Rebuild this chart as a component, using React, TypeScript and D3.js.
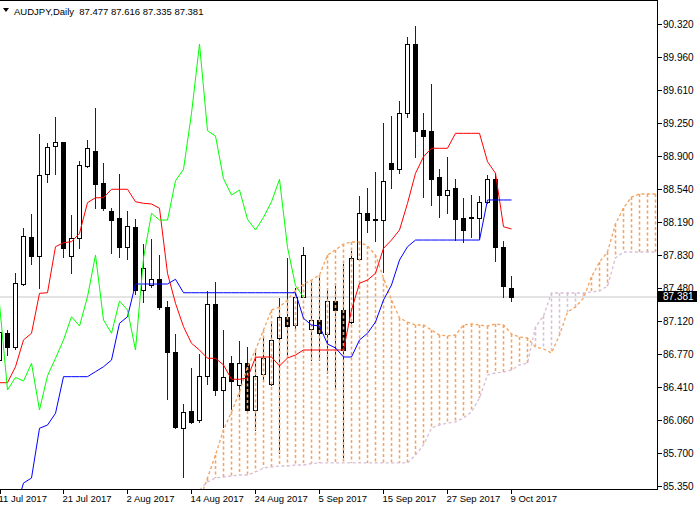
import React from 'react';
import * as d3 from 'd3';

// ---------- data (daily bars, 11 Jul 2017 = bar 0) ----------
const opens = [86.705, 86.993, 86.848, 87.523, 88.025, 87.824, 88.706, 89.011, 89.054, 87.824,
  88.015, 88.796, 88.957, 88.606, 88.311, 88.230, 87.924, 88.139, 87.458, 87.512,
  87.577, 87.279, 86.795, 85.971, 86.160, 86.060, 86.533, 87.308, 86.383, 86.670,
  86.436, 86.676, 86.168, 86.555, 86.447, 86.939, 87.171, 87.082, 87.386, 87.036,
  87.136, 86.985, 87.340, 87.243, 87.117, 87.789, 88.283, 88.219, 88.211, 88.828,
  88.757, 89.366, 90.105, 89.179, 89.172, 88.671, 88.480, 88.552, 88.230, 88.230,
  88.230, 88.408, 88.649, 87.924, 87.477];
const highs = [87.114, 87.036, 87.655, 88.139, 88.283, 89.144, 89.050, 89.333, 89.064, 88.273,
  88.857, 89.079, 89.430, 88.832, 88.354, 88.720, 88.319, 88.230, 87.961, 88.015,
  87.842, 87.351, 86.993, 86.240, 86.633, 86.777, 87.458, 87.558, 87.036, 86.759,
  86.920, 86.856, 86.795, 86.974, 87.136, 87.386, 87.810, 87.494, 87.932, 87.566,
  87.601, 87.494, 87.530, 87.746, 87.889, 88.480, 88.563, 88.742, 89.269, 89.341,
  89.502, 90.191, 90.309, 89.376, 89.682, 88.768, 88.900, 88.660, 88.462, 88.491,
  88.480, 88.706, 88.731, 87.996, 87.616];
const lows = [86.641, 86.759, 86.820, 87.512, 87.735, 87.483, 88.623, 88.706, 87.817, 87.638,
  87.907, 88.782, 88.337, 88.319, 87.853, 87.810, 87.789, 87.415, 87.333, 87.494,
  87.251, 86.283, 85.971, 85.444, 86.024, 86.042, 86.447, 86.329, 85.988, 86.175,
  86.318, 86.149, 85.952, 86.490, 86.436, 85.702, 86.741, 87.046, 87.380, 86.705,
  86.705, 86.562, 86.418, 85.665, 87.100, 87.781, 88.086, 87.985, 87.655, 88.552,
  88.714, 89.323, 88.892, 88.462, 88.373, 88.247, 88.290, 87.996, 87.978, 88.032,
  88.015, 88.391, 87.774, 87.386, 87.335];
const closes = [87.007, 86.848, 87.530, 88.042, 87.824, 88.695, 89.000, 89.054, 87.913, 88.015,
  88.800, 88.983, 88.595, 88.344, 88.211, 87.924, 88.150, 87.458, 87.692, 87.577,
  87.279, 86.788, 85.981, 86.143, 86.042, 86.533, 87.308, 86.383, 86.519, 86.479,
  86.670, 86.168, 86.536, 86.724, 86.920, 87.171, 87.071, 87.386, 87.835, 87.136,
  86.993, 87.340, 87.243, 86.813, 87.799, 88.283, 88.211, 88.211, 88.634, 88.757,
  89.359, 90.105, 89.172, 89.115, 88.656, 88.480, 88.534, 88.219, 88.104, 88.240,
  88.408, 88.649, 87.918, 87.505, 87.381];

// Ichimoku lines
const tenkan = [86.461, 86.461, 86.633, 86.921, 86.993, 87.423, 87.429, 87.924, 87.967, 87.978,
  88.068, 88.398, 88.451, 88.451, 88.542, 88.542, 88.542, 88.408, 88.391, 88.384,
  88.337, 87.638, 87.315, 87.064, 86.885, 86.813, 86.724, 86.724, 86.652, 86.498,
  86.498, 86.512, 86.735, 86.738, 86.738, 86.641, 86.727, 86.759, 86.813, 86.813,
  86.813, 86.813, 86.813, 86.813, 87.243, 87.531, 87.566, 87.638, 87.907, 87.996,
  88.104, 88.391, 88.714, 88.892, 88.983, 88.983, 88.983, 89.144, 89.144, 89.144,
  89.144, 88.839, 88.714, 88.139, 88.115];
const kijun = [84.877, 84.877, 85.092, 85.382, 85.436, 85.971, 86.006, 86.132, 86.526, 86.526,
  86.526, 86.526, 86.580, 86.633, 86.705, 87.100, 87.171, 87.523, 87.523, 87.523,
  87.523, 87.523, 87.574, 87.429, 87.429, 87.429, 87.429, 87.429, 87.429, 87.429,
  87.429, 87.429, 87.429, 87.429, 87.429, 87.429, 87.429, 87.429, 87.154, 87.082,
  87.071, 86.878, 86.835, 86.738, 86.738, 86.921, 86.993, 87.114, 87.351, 87.512,
  87.781, 87.924, 87.996, 87.996, 87.996, 87.996, 87.996, 87.996, 87.996, 87.996,
  87.996, 88.427, 88.427, 88.427, 88.427];
// Senkou spans, first value at bar 25
const CLOUD_START = 25;
const spanA = [85.199, 85.436, 85.684, 85.952, 86.146, 86.361, 86.630, 86.813, 87.028, 87.243,
  87.276, 87.351, 87.458, 87.523, 87.566, 87.620, 87.835, 87.889, 87.953, 87.975,
  87.975, 87.932, 87.835, 87.588, 87.351, 87.157, 87.114, 87.082, 87.082, 87.028,
  86.974, 86.964, 86.974, 87.082, 87.093, 87.082, 87.071, 87.093, 87.082, 86.985,
  86.953, 86.942, 86.845, 86.824, 86.781, 86.974, 87.222, 87.276, 87.372, 87.598,
  87.760, 87.867, 88.168, 88.341, 88.459, 88.491, 88.491, 88.491];
const spanB = [85.307, 85.393, 85.436, 85.447, 85.458, 85.468, 85.468, 85.501, 85.544, 85.555,
  85.565, 85.565, 85.576, 85.576, 85.592, 85.598, 85.598, 85.598, 85.598, 85.598,
  85.598, 85.598, 85.598, 85.598, 85.598, 85.598, 85.598, 85.684, 85.791, 85.974,
  86.006, 86.028, 86.039, 86.082, 86.146, 86.297, 86.544, 86.566, 86.576, 86.598,
  86.652, 86.673, 87.061, 87.179, 87.426, 87.426, 87.426, 87.426, 87.426, 87.437,
  87.448, 87.502, 87.803, 87.867, 87.867, 87.867, 87.867, 87.867];
const CHIKOU_SHIFT = 26;

const dateTicks = ['11 Jul 2017', '21 Jul 2017', '2 Aug 2017', '14 Aug 2017', '24 Aug 2017',
  '5 Sep 2017', '15 Sep 2017', '27 Sep 2017', '9 Oct 2017'];
const dateTickBars = [0, 8, 16, 24, 32, 40, 48, 56, 64];
const priceTicks = ['90.320', '89.960', '89.610', '89.250', '88.900', '88.540', '88.190',
  '87.830', '87.480', '87.120', '86.770', '86.410', '86.060', '85.700', '85.350'];
const headerTitle = 'AUDJPY,Daily';
const headerValues = ['87.477', '87.616', '87.335', '87.381'];
const lastPrice = 87.381;

const FONT = '"Liberation Sans", Arial, sans-serif';
const PL = 0, PT = 1, PR = 657, PB = 489;

export default function App() {
  const x = d3.scaleLinear().domain([0, 1]).range([-0.5, 7.5]);
  const y = d3.scaleLinear().domain([85.35, 90.32]).range([486, 24]);
  const snap = (v: number) => Math.round(v) + 0.5;

  const lineGen = d3.line<[number, number]>().x(d => x(d[0])).y(d => y(d[1]));
  const tenkanPts = tenkan.map((v, i) => [i, v] as [number, number]);
  const kijunPts = kijun.map((v, i) => [i, v] as [number, number]);
  const chikouPts = closes.slice(CHIKOU_SHIFT).map((v, i) => [i, v] as [number, number]);
  const aPts = spanA.map((v, i) => [i + CLOUD_START, v] as [number, number]);
  const bPts = spanB.map((v, i) => [i + CLOUD_START, v] as [number, number]);

  const SANDY = '#F4A460';
  const THISTLE = '#D8BFD8';

  return (
    <svg width={700} height={507} style={{ display: 'block', position: 'absolute', left: 0, top: 0, background: '#fff' }}
      fontFamily={FONT}>
      <defs>
        <clipPath id="plot">
          <rect x={PL} y={PT} width={PR - PL} height={PB - PT} />
        </clipPath>
      </defs>
      <rect x={0} y={0} width={700} height={507} fill="#fff" />
      <g clipPath="url(#plot)">
        {/* bid line */}
        <line x1={PL} x2={PR} y1={snap(y(lastPrice)) - 0.5} y2={snap(y(lastPrice)) - 0.5} stroke="#c8c8c8" strokeWidth={1} />
        {/* candles */}
        {opens.map((o, i) => {
          const c = closes[i];
          const cx = x(i);
          const top = snap(y(Math.max(o, c)));
          const bot = snap(y(Math.min(o, c)));
          const bull = c >= o;
          return (
            <g key={i} shapeRendering="crispEdges">
              <line x1={cx} x2={cx} y1={snap(y(highs[i]))} y2={snap(y(lows[i]))} stroke="#222" />
              <rect x={cx - 2} y={top} width={4} height={Math.max(bot - top, 0.01)}
                fill={bull ? '#fff' : '#000'} stroke="#000" strokeWidth={1} />
            </g>
          );
        })}
        {/* kumo histogram */}
        {spanA.map((a, i) => {
          const b = spanB[i];
          const cx = x(i + CLOUD_START);
          return (
            <path key={'h' + i} d={`M${cx},${Math.min(y(a), y(b))}V${Math.max(y(a), y(b))}`}
              fill="none" style={{ stroke: a >= b ? SANDY : THISTLE, strokeWidth: 1.55, strokeDasharray: '3 2.5' }} />
          );
        })}
        <path d={lineGen(aPts) || ''} fill="none" stroke={SANDY} strokeWidth={1.35} strokeDasharray="3 2.5" />
        <path d={lineGen(bPts) || ''} fill="none" stroke={THISTLE} strokeWidth={1.35} strokeDasharray="3 2.5" />
        {/* tenkan, kijun, chikou */}
        <path d={lineGen(tenkanPts) || ''} fill="none" stroke="#ff0000" strokeWidth={1} />
        <path d={lineGen(kijunPts) || ''} fill="none" stroke="#0000ff" strokeWidth={1} />
        <path d={lineGen(chikouPts) || ''} fill="none" stroke="#00ff00" strokeWidth={1} />
      </g>
      {/* frame */}
      <g shapeRendering="crispEdges" stroke="#000" strokeWidth={1}>
        <line x1={0} x2={PR + 0.5} y1={PT - 0.5} y2={PT - 0.5} />
        <line x1={PR + 0.5} x2={PR + 0.5} y1={PT - 0.5} y2={PB + 0.5} />
        <line x1={0} x2={PR + 0.5} y1={PB + 0.5} y2={PB + 0.5} />
      </g>
      {/* price axis */}
      {priceTicks.map(t => {
        const yy = snap(y(+t));
        return (
          <g key={t}>
            <line x1={PR + 1} x2={PR + 5} y1={yy} y2={yy} stroke="#000" shapeRendering="crispEdges" />
            <text x={663} y={yy + 3.5} fontSize={10} fill="#000">{t}</text>
          </g>
        );
      })}
      <rect x={658} y={snap(y(lastPrice)) - 7} width={39} height={11} fill="#000" shapeRendering="crispEdges" />
      <text x={663} y={snap(y(lastPrice)) + 2.5} fontSize={10} fill="#fff">{lastPrice.toFixed(3)}</text>
      {/* time axis */}
      {dateTicks.map((t, i) => {
        const xx = x(dateTickBars[i]);
        return (
          <g key={t}>
            <line x1={Math.max(xx, 0.5)} x2={Math.max(xx, 0.5)} y1={PB + 1} y2={PB + 5} stroke="#000" shapeRendering="crispEdges" />
            <text x={xx - 1} y={502} fontSize={9.5} fill="#000">{t}</text>
          </g>
        );
      })}
      {/* header */}
      <path d="M3,8 L9,8 L6,12 Z" fill="#000" />
      <text x={14} y={14.5} fontSize={9.5} fill="#000" style={{ whiteSpace: 'pre' }}>
        {headerTitle + '  ' + headerValues.join(' ')}
      </text>
    </svg>
  );
}
